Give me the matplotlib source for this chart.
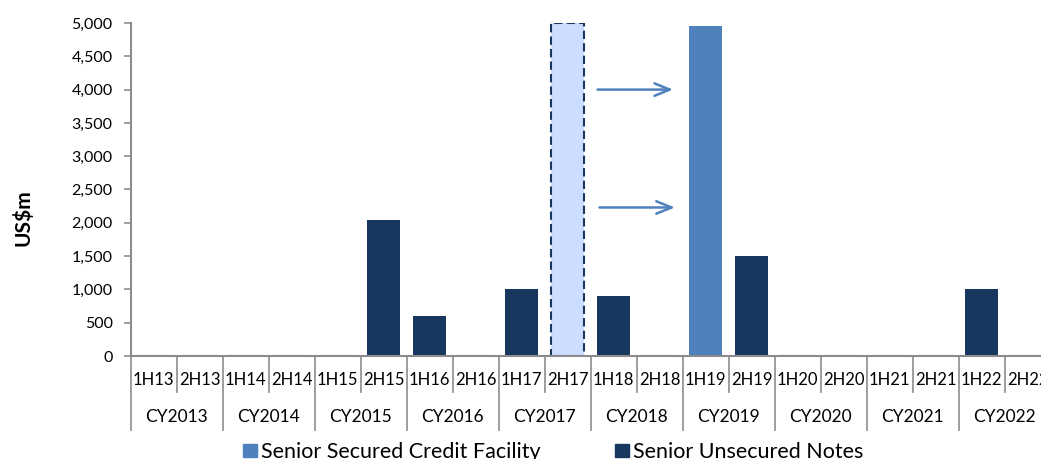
import numpy as np
import matplotlib.pyplot as plt
from matplotlib.patches import Rectangle
from matplotlib.transforms import blended_transform_factory

plt.rcParams['font.family'] = ['Lato', 'DejaVu Sans']

# half-year periods and calendar years
periods = ["1H13", "2H13", "1H14", "2H14", "1H15", "2H15", "1H16", "2H16", "1H17", "2H17",
           "1H18", "2H18", "1H19", "2H19", "1H20", "2H20", "1H21", "2H21", "1H22", "2H22"]
years = ["CY2013", "CY2014", "CY2015", "CY2016", "CY2017",
         "CY2018", "CY2019", "CY2020", "CY2021", "CY2022"]

# US$m
secured = [0, 0, 0, 0, 0, 0, 0, 0, 0, 0, 0, 0, 4960, 0, 0, 0, 0, 0, 0, 0]
unsecured = [0, 0, 0, 0, 0, 2040, 600, 0, 1000, 0, 900, 0, 0, 1500, 0, 0, 0, 0, 1000, 0]
# refinanced facility shown as dashed ghost bar
ghost = [0, 0, 0, 0, 0, 0, 0, 0, 0, 5000, 0, 0, 0, 0, 0, 0, 0, 0, 0, 0]
arrow_y = [4000, 2230]

navy = "#17375E"
mid = "#4F81BD"
light = "#CCDDFF"
grey = "#8C8C8C"

fig = plt.figure(figsize=(10.41, 4.59), dpi=100)
ax = fig.add_axes([130.7 / 1041, 1 - 356 / 459, 920 / 1041, 333 / 459])

x = np.arange(len(periods))
w = 0.71
ax.bar(x, secured, width=w, color=mid, zorder=2)
ax.bar(x, unsecured, width=w, color=navy, zorder=2)
ax.bar(x, ghost, width=w, color=light, edgecolor=navy, linestyle=(0, (4, 2)),
       linewidth=1.5, zorder=2)

# arrows from ghost bar to the new facility
i = ghost.index(max(ghost))
for k, ay in enumerate(arrow_y):
    ax.annotate("", xy=(i + 2.29 + 0.04 * k, ay), xytext=(i + 0.65 + 0.04 * k, ay),
                arrowprops=dict(arrowstyle="->,head_length=1.1,head_width=0.45",
                                color=mid, lw=1.8, shrinkA=0, shrinkB=0))

ax.set_xlim(-0.5, len(periods) - 0.5)
ax.set_ylim(0, 5000)
ax.set_yticks(np.arange(0, 5001, 500))
ax.set_yticklabels([f"{v:,}" for v in range(0, 5001, 500)], fontsize=11.5)
ax.tick_params(axis="y", color=grey, length=5, width=1.2, pad=8)
ax.set_xticks([])

for s in ["top", "right"]:
    ax.spines[s].set_visible(False)
for s in ["left", "bottom"]:
    ax.spines[s].set_color(grey)
    ax.spines[s].set_linewidth(1.5)

fig.text(23 / 1041, 1 - 218 / 459, "US$m", fontsize=15, fontweight="bold",
         rotation=90, ha="center", va="center")

# two-level category axis
tr = blended_transform_factory(ax.transData, ax.transAxes)
for j, p in enumerate(periods):
    ax.text(j, -0.072, p, transform=tr, ha="center", va="center", fontsize=12,
            clip_on=False)
for j in range(len(periods) + 1):
    bottom = -0.222 if j % 2 == 0 else -0.108
    ax.plot([j - 0.5, j - 0.5], [0, bottom], transform=tr, color=grey, lw=1.2,
            clip_on=False)
for j, yr in enumerate(years):
    ax.text(2 * j + 0.5, -0.183, yr, transform=tr, ha="center", va="center",
            fontsize=12.5, clip_on=False)

# legend
for lx, col, lab in [(243, mid, "Senior Secured Credit Facility"),
                     (615, navy, "Senior Unsecured Notes")]:
    fig.patches.append(Rectangle((lx / 1041, 1 - 457 / 459), 14 / 1041, 13 / 459,
                                 transform=fig.transFigure, color=col))
    fig.text((lx + 18) / 1041, 1 - 452 / 459, lab, fontsize=15.5, va="center")

fig.savefig("out.png", dpi=100)
